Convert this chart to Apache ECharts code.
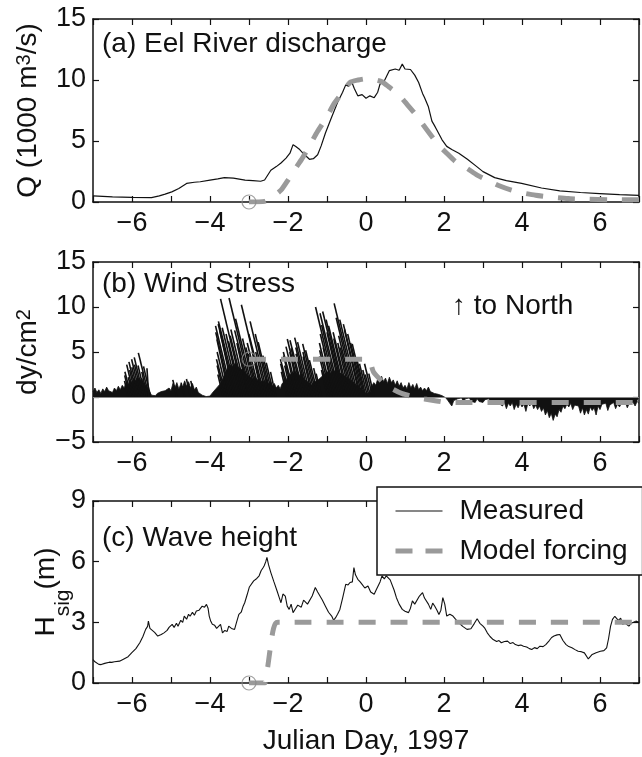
<!DOCTYPE html>
<html>
<head>
<meta charset="utf-8">
<script src="https://cdn.jsdelivr.net/npm/echarts@6/dist/echarts.min.js"></script>
<style>html,body{margin:0;padding:0;background:#fff}#c{width:642px;height:757px}</style>
</head>
<body>
<div id="c"></div>
<script>
// ---------- DATA ----------
// (a) Eel River discharge (1000 m^3/s)
const qDays = [-7.0,-6.95,-6.5,-6.0,-5.5,-5.3,-5.15,-4.98,-4.8,-4.6,-4.4,-4.25,-4.0,-3.8,-3.63,-3.4,-3.1,-2.9,-2.7,-2.6,-2.44,-2.3,-2.18,-2.05,-1.95,-1.87,-1.8,-1.77,-1.7,-1.6,-1.45,-1.35,-1.24,-1.15,-1.04,-0.9,-0.73,-0.6,-0.52,-0.45,-0.36,-0.3,-0.21,-0.1,0,0.1,0.21,0.3,0.36,0.45,0.6,0.75,0.85,0.93,1.0,1.05,1.14,1.25,1.35,1.45,1.5,1.6,1.69,1.75,1.81,1.95,2.07,2.2,2.38,2.6,2.8,3.0,3.3,3.6,3.99,4.5,4.97,5.5,5.99,6.5,7.0];
const qMeasured = [0.5,0.47,0.42,0.38,0.36,0.5,0.65,0.83,1.1,1.52,1.62,1.66,1.8,1.9,2.0,1.95,1.8,1.75,1.7,1.8,2.6,2.9,3.2,3.6,4.0,4.7,4.55,4.65,4.3,3.95,3.5,3.55,3.87,4.6,5.66,6.8,8.15,9.0,9.6,9.5,9.8,9.3,8.7,8.8,8.5,8.7,8.55,9.0,9.67,9.8,10.77,10.9,10.8,11.3,10.9,11.0,10.86,10.4,9.8,8.9,8.56,7.8,6.63,6.3,5.94,5.1,4.56,4.3,4.0,3.5,3.0,2.49,2.0,1.75,1.52,1.15,0.91,0.78,0.69,0.6,0.55];
const qModelDays = [-3.0,-2.6,-2.4,-2.18,-2.0,-1.8,-1.66,-1.45,-1.24,-1.0,-0.83,-0.6,-0.41,-0.2,0,0.2,0.41,0.6,0.83,1.0,1.24,1.45,1.66,1.85,2.07,2.3,2.59,2.85,3.1,3.4,3.73,4.0,4.35,4.7,5.18,5.7,6.2,7.0];
const qModel = [0,0.05,0.4,0.97,1.8,2.8,3.45,4.6,5.8,7.0,8.0,9.0,9.8,10.0,10.1,10.05,9.86,9.4,8.84,8.2,7.3,6.4,5.5,4.7,4.0,3.3,2.76,2.2,1.8,1.35,0.97,0.75,0.55,0.42,0.28,0.22,0.19,0.18];

// (b) Wind stress (dy/cm^2): dense low-level stress (north component)
const windDays = [-7.00,-6.95,-6.90,-6.85,-6.80,-6.75,-6.70,-6.65,-6.60,-6.55,-6.50,-6.45,-6.40,-6.35,-6.30,-6.25,-6.20,-6.15,-6.10,-6.05,
-6.00,-5.95,-5.90,-5.85,-5.80,-5.75,-5.70,-5.65,-5.60,-5.55,-5.50,-5.45,-5.40,-5.35,-5.30,-5.25,-5.20,-5.15,-5.10,-5.05,
-5.00,-4.95,-4.90,-4.85,-4.80,-4.75,-4.70,-4.65,-4.60,-4.55,-4.50,-4.45,-4.40,-4.35,-4.30,-4.25,-4.20,-4.15,-4.10,-4.05,
-4.00,-3.95,-3.90,-3.85,-3.80,-3.75,-3.70,-3.65,-3.60,-3.55,-3.50,-3.45,-3.40,-3.35,-3.30,-3.25,-3.20,-3.15,-3.10,-3.05,
-3.00,-2.95,-2.90,-2.85,-2.80,-2.75,-2.70,-2.65,-2.60,-2.55,-2.50,-2.45,-2.40,-2.35,-2.30,-2.25,-2.20,-2.15,-2.10,-2.05,
-2.00,-1.95,-1.90,-1.85,-1.80,-1.75,-1.70,-1.65,-1.60,-1.55,-1.50,-1.45,-1.40,-1.35,-1.30,-1.25,-1.20,-1.15,-1.10,-1.05,
-1.00,-0.95,-0.90,-0.85,-0.80,-0.75,-0.70,-0.65,-0.60,-0.55,-0.50,-0.45,-0.40,-0.35,-0.30,-0.25,-0.20,-0.15,-0.10,-0.05,
0.00,0.05,0.10,0.15,0.20,0.25,0.30,0.35,0.40,0.45,0.50,0.55,0.60,0.65,0.70,0.75,0.80,0.85,0.90,0.95,
1.00,1.05,1.10,1.15,1.20,1.25,1.30,1.35,1.40,1.45,1.50,1.55,1.60,1.65,1.70,1.75,1.80,1.85,1.90,1.95,
2.00,2.05,2.10,2.15,2.20,2.25,2.30,2.35,2.40,2.45,2.50,2.55,2.60,2.65,2.70,2.75,2.80,2.85,2.90,2.95,
3.00,3.05,3.10,3.15,3.20,3.25,3.30,3.35,3.40,3.45,3.50,3.55,3.60,3.65,3.70,3.75,3.80,3.85,3.90,3.95,
4.00,4.05,4.10,4.15,4.20,4.25,4.30,4.35,4.40,4.45,4.50,4.55,4.60,4.65,4.70,4.75,4.80,4.85,4.90,4.95,
5.00,5.05,5.10,5.15,5.20,5.25,5.30,5.35,5.40,5.45,5.50,5.55,5.60,5.65,5.70,5.75,5.80,5.85,5.90,5.95,
6.00,6.05,6.10,6.15,6.20,6.25,6.30,6.35,6.40,6.45,6.50,6.55,6.60,6.65,6.70,6.75,6.80,6.85,6.90,6.95,7.00];
const windEnvelope = [0.6,1.0,0.5,0.8,0.4,0.9,0.6,1.1,0.7,0.9,0.5,1.0,0.7,1.2,0.8,1.3,1.0,1.6,1.3,1.9,
1.6,2.1,1.7,2.2,1.8,2.1,1.6,1.5,1.0,0.6,0.2,0.3,0.15,0.4,0.3,0.6,0.4,0.7,0.5,1.0,
0.7,1.5,1.0,1.6,0.9,1.4,1.1,1.8,1.2,1.7,1.0,1.5,0.8,1.1,0.5,0.4,0.2,0.1,0.05,0.05,
0.1,0.4,0.6,0.9,1.1,1.4,1.6,2.2,2.6,3.2,3.0,3.6,3.3,3.8,3.4,3.6,3.1,3.2,2.7,2.9,
2.3,2.5,2.0,2.3,1.8,2.1,1.6,1.9,1.5,2.0,1.4,1.8,1.2,1.5,1.0,1.3,0.9,1.5,1.3,1.9,
2.1,2.6,2.3,2.9,2.5,2.8,2.3,2.6,2.0,2.2,1.7,1.9,1.3,1.6,1.4,1.8,1.7,2.2,2.1,2.6,
2.4,2.9,2.6,3.1,2.8,3.2,2.7,2.9,2.5,2.7,2.2,2.4,1.9,2.0,1.5,1.7,1.2,1.3,0.8,0.9,
0.4,0.3,0.5,1.2,1.6,1.3,2.0,1.6,2.3,1.7,2.1,1.5,2.2,1.6,1.9,1.3,1.8,1.2,1.6,1.0,
1.3,0.9,1.6,1.0,1.4,0.9,1.5,0.8,1.1,0.7,1.0,0.7,1.1,0.6,0.8,0.4,0.6,0.3,0.4,0.15,
0.1,-0.1,-0.4,-0.2,-1.0,-0.4,-0.6,-0.2,-0.4,-0.1,-0.5,-0.2,-0.4,-0.1,-0.5,-0.3,-0.6,-0.2,-0.5,-0.3,
-0.6,-0.3,-0.5,-0.2,-0.6,-0.4,-0.8,-0.4,-0.7,-0.5,-1.0,-0.6,-1.3,-0.7,-1.0,-0.6,-1.4,-0.8,-1.2,-0.7,
-1.1,-0.8,-1.6,-0.7,-1.0,-0.6,-1.3,-0.9,-1.4,-1.0,-1.6,-1.2,-2.0,-1.5,-2.3,-1.8,-2.6,-1.9,-2.2,-1.4,
-1.7,-1.0,-1.3,-0.8,-1.1,-0.7,-1.4,-0.9,-1.1,-1.0,-1.8,-1.2,-2.0,-1.4,-1.9,-1.1,-1.5,-1.2,-2.0,-1.0,
-1.4,-0.8,-1.0,-0.7,-1.5,-0.9,-1.0,-0.6,-1.3,-0.8,-1.1,-0.7,-0.9,-0.6,-1.2,-0.7,-0.9,-0.6,-1.0,-0.5,-0.7];
// strong wind-stress sticks: base day, east component u, north component v (dy/cm^2)
const stickDay = [-6.10,-6.06,-6.02,-5.98,-5.94,-5.90,-5.86,-5.82,-5.78,-5.74,-5.70,-5.66,-5.61,-5.56,-5.52,-5.57,
  -4.85,-4.65,-4.50,-4.40,
  -3.66,-3.62,-3.58,-3.54,-3.50,-3.46,-3.42,-3.38,-3.34,-3.30,-3.26,-3.22,-3.18,-3.13,-3.09,-3.05,-3.01,-2.97,-2.93,-2.90,-2.86,-2.82,-2.78,-2.74,-2.70,-2.66,-2.63,-2.59,-2.55,-2.51,-2.47,-2.43,-2.39,-2.35,-2.31,
  -2.02,-1.98,-1.94,-1.90,-1.86,-1.82,-1.78,-1.74,-1.70,-1.66,-1.62,-1.58,-1.54,-1.50,-1.46,-1.42,-1.38,-1.34,-1.30,-1.26,-1.22,-1.18,-1.14,
  -0.98,-0.94,-0.90,-0.86,-0.82,-0.78,-0.74,-0.70,-0.66,-0.62,-0.58,-0.55,-0.52,-0.48,-0.44,-0.40,-0.36,-0.32,-0.28,-0.24,-0.20,-0.16,-0.13,-0.10,-0.06,-0.03,0.00,0.04,0.08,0.12,0.17,0.21];
const stickU = [-0.4,-0.55,-0.7,-0.5,-0.85,-0.7,-0.95,-0.8,-1.0,-0.85,-1.05,-0.8,-0.6,-1.2,-0.8,-0.2,
  -0.45,-0.4,-0.45,-0.4,
  -0.6,-0.85,-1.1,-1.2,-1.4,-1.7,-1.9,-1.6,-1.95,-2.1,-1.85,-1.6,-1.5,-2.6,-1.7,-1.8,-1.3,-1.25,-1.9,-2.65,-2.1,-1.5,-1.3,-1.2,-1.5,-1.1,-2.45,-1.8,-1.2,-2.0,-1.6,-1.45,-1.1,-0.9,-0.6,
  -0.65,-0.9,-1.1,-0.8,-1.1,-1.3,-1.0,-1.35,-1.1,-1.55,-1.3,-1.6,-1.1,-1.3,-1.6,-1.45,-1.0,-1.2,-1.4,-1.25,-1.0,-0.7,-0.6,
  -0.7,-1.1,-1.25,-1.45,-1.2,-1.7,-2.4,-1.9,-2.25,-1.65,-2.3,-2.05,-1.9,-1.5,-1.75,-1.4,-1.3,-1.65,-2.1,-2.5,-2.05,-1.7,-1.95,-1.6,-1.45,-1.4,-1.05,-0.9,-0.7,-0.6,-0.9,-0.6];
const stickV = [1.8,2.4,2.8,2.2,3.6,3.0,3.9,3.3,4.2,3.6,4.4,3.5,2.8,4.9,3.4,3.2,
  1.9,1.6,2.0,1.8,
  2.5,3.5,4.2,5.0,6.4,7.2,7.9,7.4,8.1,8.4,7.7,7.0,6.2,10.9,6.8,7.5,6.0,5.2,7.4,11.0,8.7,6.5,5.5,4.8,6.0,5.0,10.25,7.0,5.0,8.4,7.0,6.1,4.6,3.8,2.8,
  2.8,3.7,4.2,3.5,4.6,5.0,4.4,5.6,5.0,6.45,5.4,6.3,4.8,5.5,6.6,6.1,4.5,5.0,5.9,5.2,4.1,3.2,2.6,
  3.0,4.5,5.2,6.0,5.5,7.0,10.0,8.0,9.3,7.2,9.5,8.6,7.9,6.5,7.2,6.0,5.5,6.8,8.8,10.4,8.6,7.5,8.1,7.0,6.0,5.9,4.3,3.7,3.0,2.5,3.7,2.6];
const wModelDays = [-3.0,0.05,0.19,0.47,0.7,0.93,1.24,1.5,1.81,2.1,7.0];
const wModel = [4.2,4.2,2.8,1.5,0.85,0.37,0.0,-0.22,-0.44,-0.62,-0.62];

// (c) Significant wave height (m)
const waveDays = [-7.0,-6.95,-6.9,-6.85,-6.79,-6.7,-6.65,-6.58,-6.52,-6.45,-6.4,-6.32,-6.27,-6.22,-6.17,-6.1,-6.05,-6.01,-5.9,-5.8,-5.72,-5.65,-5.6,-5.58,-5.54,-5.49,-5.42,-5.34,-5.25,-5.18,-5.1,-5.05,-4.97,-4.92,-4.86,-4.82,-4.75,-4.7,-4.66,-4.6,-4.55,-4.51,-4.45,-4.4,-4.35,-4.28,-4.2,-4.14,-4.09,-4.05,-4.02,-3.98,-3.94,-3.88,-3.83,-3.78,-3.73,-3.68,-3.62,-3.56,-3.52,-3.45,-3.37,-3.32,-3.26,-3.2,-3.15,-3.11,-3.05,-2.99,-2.95,-2.88,-2.8,-2.74,-2.69,-2.64,-2.61,-2.57,-2.54,-2.5,-2.44,-2.36,-2.28,-2.22,-2.18,-2.13,-2.07,-2.02,-1.97,-1.92,-1.87,-1.8,-1.75,-1.71,-1.66,-1.6,-1.55,-1.5,-1.45,-1.38,-1.3,-1.24,-1.19,-1.12,-1.04,-0.96,-0.88,-0.83,-0.78,-0.73,-0.67,-0.6,-0.52,-0.46,-0.41,-0.35,-0.31,-0.27,-0.21,-0.15,-0.1,-0.03,0.05,0.12,0.21,0.26,0.31,0.36,0.41,0.47,0.52,0.57,0.62,0.67,0.72,0.78,0.85,0.93,1.0,1.09,1.14,1.19,1.25,1.3,1.37,1.45,1.5,1.55,1.6,1.66,1.71,1.76,1.82,1.87,1.92,1.97,2.02,2.07,2.15,2.23,2.3,2.38,2.48,2.59,2.69,2.78,2.85,2.92,3.0,3.05,3.11,3.18,3.26,3.35,3.41,3.47,3.55,3.63,3.7,3.77,3.83,3.9,3.97,4.04,4.12,4.19,4.25,4.32,4.39,4.46,4.54,4.61,4.7,4.76,4.82,4.9,4.97,5.05,5.13,5.2,5.28,5.36,5.44,5.52,5.6,5.65,5.7,5.75,5.8,5.9,6.01,6.1,6.17,6.22,6.27,6.32,6.38,6.42,6.47,6.53,6.58,6.65,6.74,6.8,6.86,6.92,7.0];
const waveH = [1.16,1.05,0.98,0.92,0.91,0.97,0.95,1.03,1.02,1.05,1.03,1.08,1.04,1.18,1.1,1.3,1.35,1.49,1.7,1.99,2.3,2.65,2.8,3.06,2.7,2.65,2.5,2.32,2.4,2.48,2.6,2.75,2.9,2.75,2.95,2.81,3.1,3.0,3.31,3.15,3.4,3.3,3.5,3.35,3.56,3.6,3.8,3.75,3.89,3.7,3.31,3.05,2.9,2.85,2.7,2.73,2.9,2.48,2.6,2.55,2.81,2.7,2.65,3.0,3.39,3.5,3.8,3.97,4.35,4.75,4.8,5.05,5.17,5.3,5.55,5.7,5.8,6.0,6.21,5.85,5.46,5.0,4.55,4.2,3.97,4.4,4.3,3.8,3.64,3.9,3.48,3.7,3.85,3.89,3.75,4.1,4.14,3.9,3.97,4.3,4.72,4.5,4.47,4.1,3.8,3.5,3.31,3.1,3.23,3.4,3.64,4.2,4.88,4.85,4.97,5.0,5.71,5.35,5.13,5.0,4.88,4.7,4.8,4.5,4.39,4.6,4.64,5.0,5.3,5.15,5.3,5.22,5.1,5.05,4.6,4.22,3.9,3.64,3.55,3.48,3.7,4.06,3.9,3.97,4.3,4.47,4.2,4.14,3.9,3.64,3.95,3.81,3.6,3.39,3.6,4.22,3.9,3.31,3.4,3.31,3.15,2.98,2.8,2.65,2.68,2.95,3.18,2.95,2.81,2.7,2.48,2.3,2.15,2.05,2.1,1.99,2.05,2.07,1.95,2.0,1.9,1.85,1.88,1.82,1.78,1.7,1.66,1.75,1.7,1.82,1.8,1.9,2.1,2.25,2.32,2.38,2.4,2.1,1.9,1.8,1.74,1.65,1.57,1.55,1.49,1.4,1.19,1.3,1.41,1.5,1.57,1.6,1.74,2.2,2.8,3.15,3.3,3.39,3.1,3.2,2.9,2.95,2.81,2.95,3.0,3.06,3.0];
const hModelDays = [-3.0,-2.6,-2.57,-2.52,-2.47,-2.42,-2.37,-2.32,-2.26,7.0];
const hModel = [0,0,0.2,0.8,1.5,2.2,2.7,2.95,3.0,3.0];

// axis ranges [min, max, interval]
const xRange = [-7, 7];
const yRanges = [[0, 15, 5], [-5, 15, 5], [0, 9, 3]];

// ---------- CHART ----------
const FONT = '"Liberation Sans", Arial, Helvetica, sans-serif';
const INK = '#111';
const GRAY = '#9a9a9a';
const chart = echarts.init(document.getElementById('c'), null, {renderer: 'canvas'});
const pair = (xs, ys) => xs.map((x, i) => [x, ys[i]]);
const minus = v => (v < 0 ? '\u2212' + (-v) : String(v));

const grids = [
  {left: 93, right: 1, top: 19, height: 183},
  {left: 93, right: 1, top: 262, height: 180},
  {left: 93, right: 1, top: 501, height: 182}
];
const yNames = [
  {text: '{n|Q (1000 m}{s|3}{n|/s)}', gap: 51},
  {text: '{n|dy/cm}{s|2}', gap: 51},
  {text: '{n|H}{b|sig}{n|(m)}', gap: 19}
];

const xAxes = [], yAxes = [];
grids.forEach((g, i) => {
  ['bottom', 'top'].forEach(pos => {
    xAxes.push({
      type: 'value', gridIndex: i, position: pos, min: xRange[0], max: xRange[1], interval: 1,
      axisLine: {show: true, onZero: false, lineStyle: {color: INK, width: 1.5}},
      axisTick: {show: true, inside: true, length: 6, lineStyle: {color: INK, width: 1.2}},
      axisLabel: {show: pos === 'bottom', formatter: v => (Math.round(v) % 2 === 0 ? minus(v) : ''),
        fontSize: 27, color: INK, fontFamily: FONT, margin: 8},
      splitLine: {show: false},
      name: (i === 2 && pos === 'bottom') ? 'Julian Day, 1997' : '',
      nameLocation: 'middle', nameGap: 44,
      nameTextStyle: {fontSize: 28, color: INK, fontFamily: FONT}
    });
  });
  ['left', 'right'].forEach(pos => {
    const r = yRanges[i];
    yAxes.push({
      type: 'value', gridIndex: i, position: pos, min: r[0], max: r[1], interval: r[2],
      axisLine: {show: true, onZero: false, lineStyle: {color: INK, width: 1.5}},
      axisTick: {show: true, inside: true, length: 6, lineStyle: {color: INK, width: 1.2}},
      axisLabel: {show: pos === 'left', formatter: v => minus(v), fontSize: 27, color: INK, fontFamily: FONT, margin: 7},
      splitLine: {show: false},
      name: pos === 'left' ? yNames[i].text : '',
      nameLocation: 'middle', nameGap: yNames[i].gap,
      nameMoveOverlap: i !== 2,
      nameTextStyle: {fontSize: 28, color: INK, fontFamily: FONT,
        rich: {
          n: {fontSize: 28, color: INK, fontFamily: FONT},
          s: {fontSize: 20, color: INK, fontFamily: FONT, verticalAlign: 'top'},
          b: {fontSize: 21, color: INK, fontFamily: FONT, verticalAlign: 'bottom', lineHeight: 56}
        }}
    });
  });
});

const dashStyle = {color: GRAY, width: 5, type: [17, 15], cap: 'butt'};
const startMarker = (gi, x, y) => ({
  type: 'scatter', xAxisIndex: 2 * gi, yAxisIndex: 2 * gi, data: [[x, y]],
  symbol: 'circle', symbolSize: 14, silent: true, z: 5,
  itemStyle: {color: 'rgba(255,255,255,0)', borderColor: '#8a8a8a', borderWidth: 1.2}
});

const series = [
  // (a)
  {name: 'Measured', type: 'line', xAxisIndex: 0, yAxisIndex: 0, data: pair(qDays, qMeasured),
   symbol: 'none', lineStyle: {color: INK, width: 1.2}, itemStyle: {color: INK}, z: 3},
  {name: 'Model forcing', type: 'line', xAxisIndex: 0, yAxisIndex: 0, data: pair(qModelDays, qModel),
   symbol: 'none', smooth: 0.2, lineStyle: dashStyle, itemStyle: {color: GRAY}, z: 4},
  startMarker(0, qModelDays[0], qModel[0]),
  // (b)
  {name: 'wind', type: 'line', xAxisIndex: 2, yAxisIndex: 2, data: pair(windDays, windEnvelope),
   symbol: 'none', lineStyle: {color: INK, width: 0.8}, areaStyle: {color: INK, opacity: 1}, z: 2,
   markLine: {symbol: 'none', silent: true, label: {show: false},
     lineStyle: {color: '#888', width: 1.2, type: 'solid'}, data: [{yAxis: 0}]}},
  {name: 'sticks', type: 'custom', xAxisIndex: 2, yAxisIndex: 2, clip: true, z: 3,
   data: stickDay.map((t, i) => [t, stickV[i], stickU[i]]),
   encode: {x: 0, y: 1},
   renderItem: (params, api) => {
     const t = api.value(0), v = api.value(1), u = api.value(2);
     const base = api.coord([t, 0]);
     const unit = api.size([1, 1])[1];
     return {type: 'line', shape: {x1: base[0], y1: base[1], x2: base[0] + u * unit, y2: base[1] - v * unit},
       style: {stroke: INK, lineWidth: 1.6}};
   }},
  {name: 'Model forcing', type: 'line', xAxisIndex: 2, yAxisIndex: 2, data: pair(wModelDays, wModel),
   symbol: 'none', smooth: 0.2, lineStyle: dashStyle, itemStyle: {color: GRAY}, z: 4},
  startMarker(1, wModelDays[0], wModel[0]),
  // (c)
  {name: 'Measured', type: 'line', xAxisIndex: 4, yAxisIndex: 4, data: pair(waveDays, waveH),
   symbol: 'none', lineStyle: {color: INK, width: 1.1}, itemStyle: {color: INK}, z: 3},
  {name: 'Model forcing', type: 'line', xAxisIndex: 4, yAxisIndex: 4, data: pair(hModelDays, hModel),
   symbol: 'none', smooth: 0.3, lineStyle: dashStyle, itemStyle: {color: GRAY}, z: 4},
  startMarker(2, hModelDays[0], hModel[0])
];

const titleStyle = {fontSize: 28, fontWeight: 'normal', color: INK, fontFamily: FONT};
chart.setOption({
  animation: false,
  backgroundColor: '#fff',
  grid: grids,
  xAxis: xAxes,
  yAxis: yAxes,
  title: [
    {text: '(a) Eel River discharge', left: 102, top: 30, padding: 0, textStyle: titleStyle},
    {text: '(b) Wind Stress', left: 102, top: 270, padding: 0, textStyle: titleStyle},
    {text: '(c) Wave height', left: 102, top: 524, padding: 0, textStyle: titleStyle},
    {text: '\u2191 to North', left: 452, top: 292, padding: 0, textStyle: titleStyle}
  ],
  legend: {
    data: [
      {name: 'Measured', lineStyle: {width: 1.2}},
      {name: 'Model forcing', lineStyle: {width: 5, type: [17, 13], cap: 'butt'}}
    ],
    orient: 'vertical', left: 377, top: 487,
    padding: [9, 15, 9, 16], itemGap: 10, itemWidth: 47, itemHeight: 14,
    backgroundColor: '#fff', borderColor: INK, borderWidth: 1.5, borderRadius: 0,
    selectedMode: false, z: 10,
    itemStyle: {opacity: 0},
    textStyle: {fontSize: 28, color: INK, fontFamily: FONT, padding: [0, 0, 0, 12], lineHeight: 30}
  },
  series: series
});
</script>
</body>
</html>
